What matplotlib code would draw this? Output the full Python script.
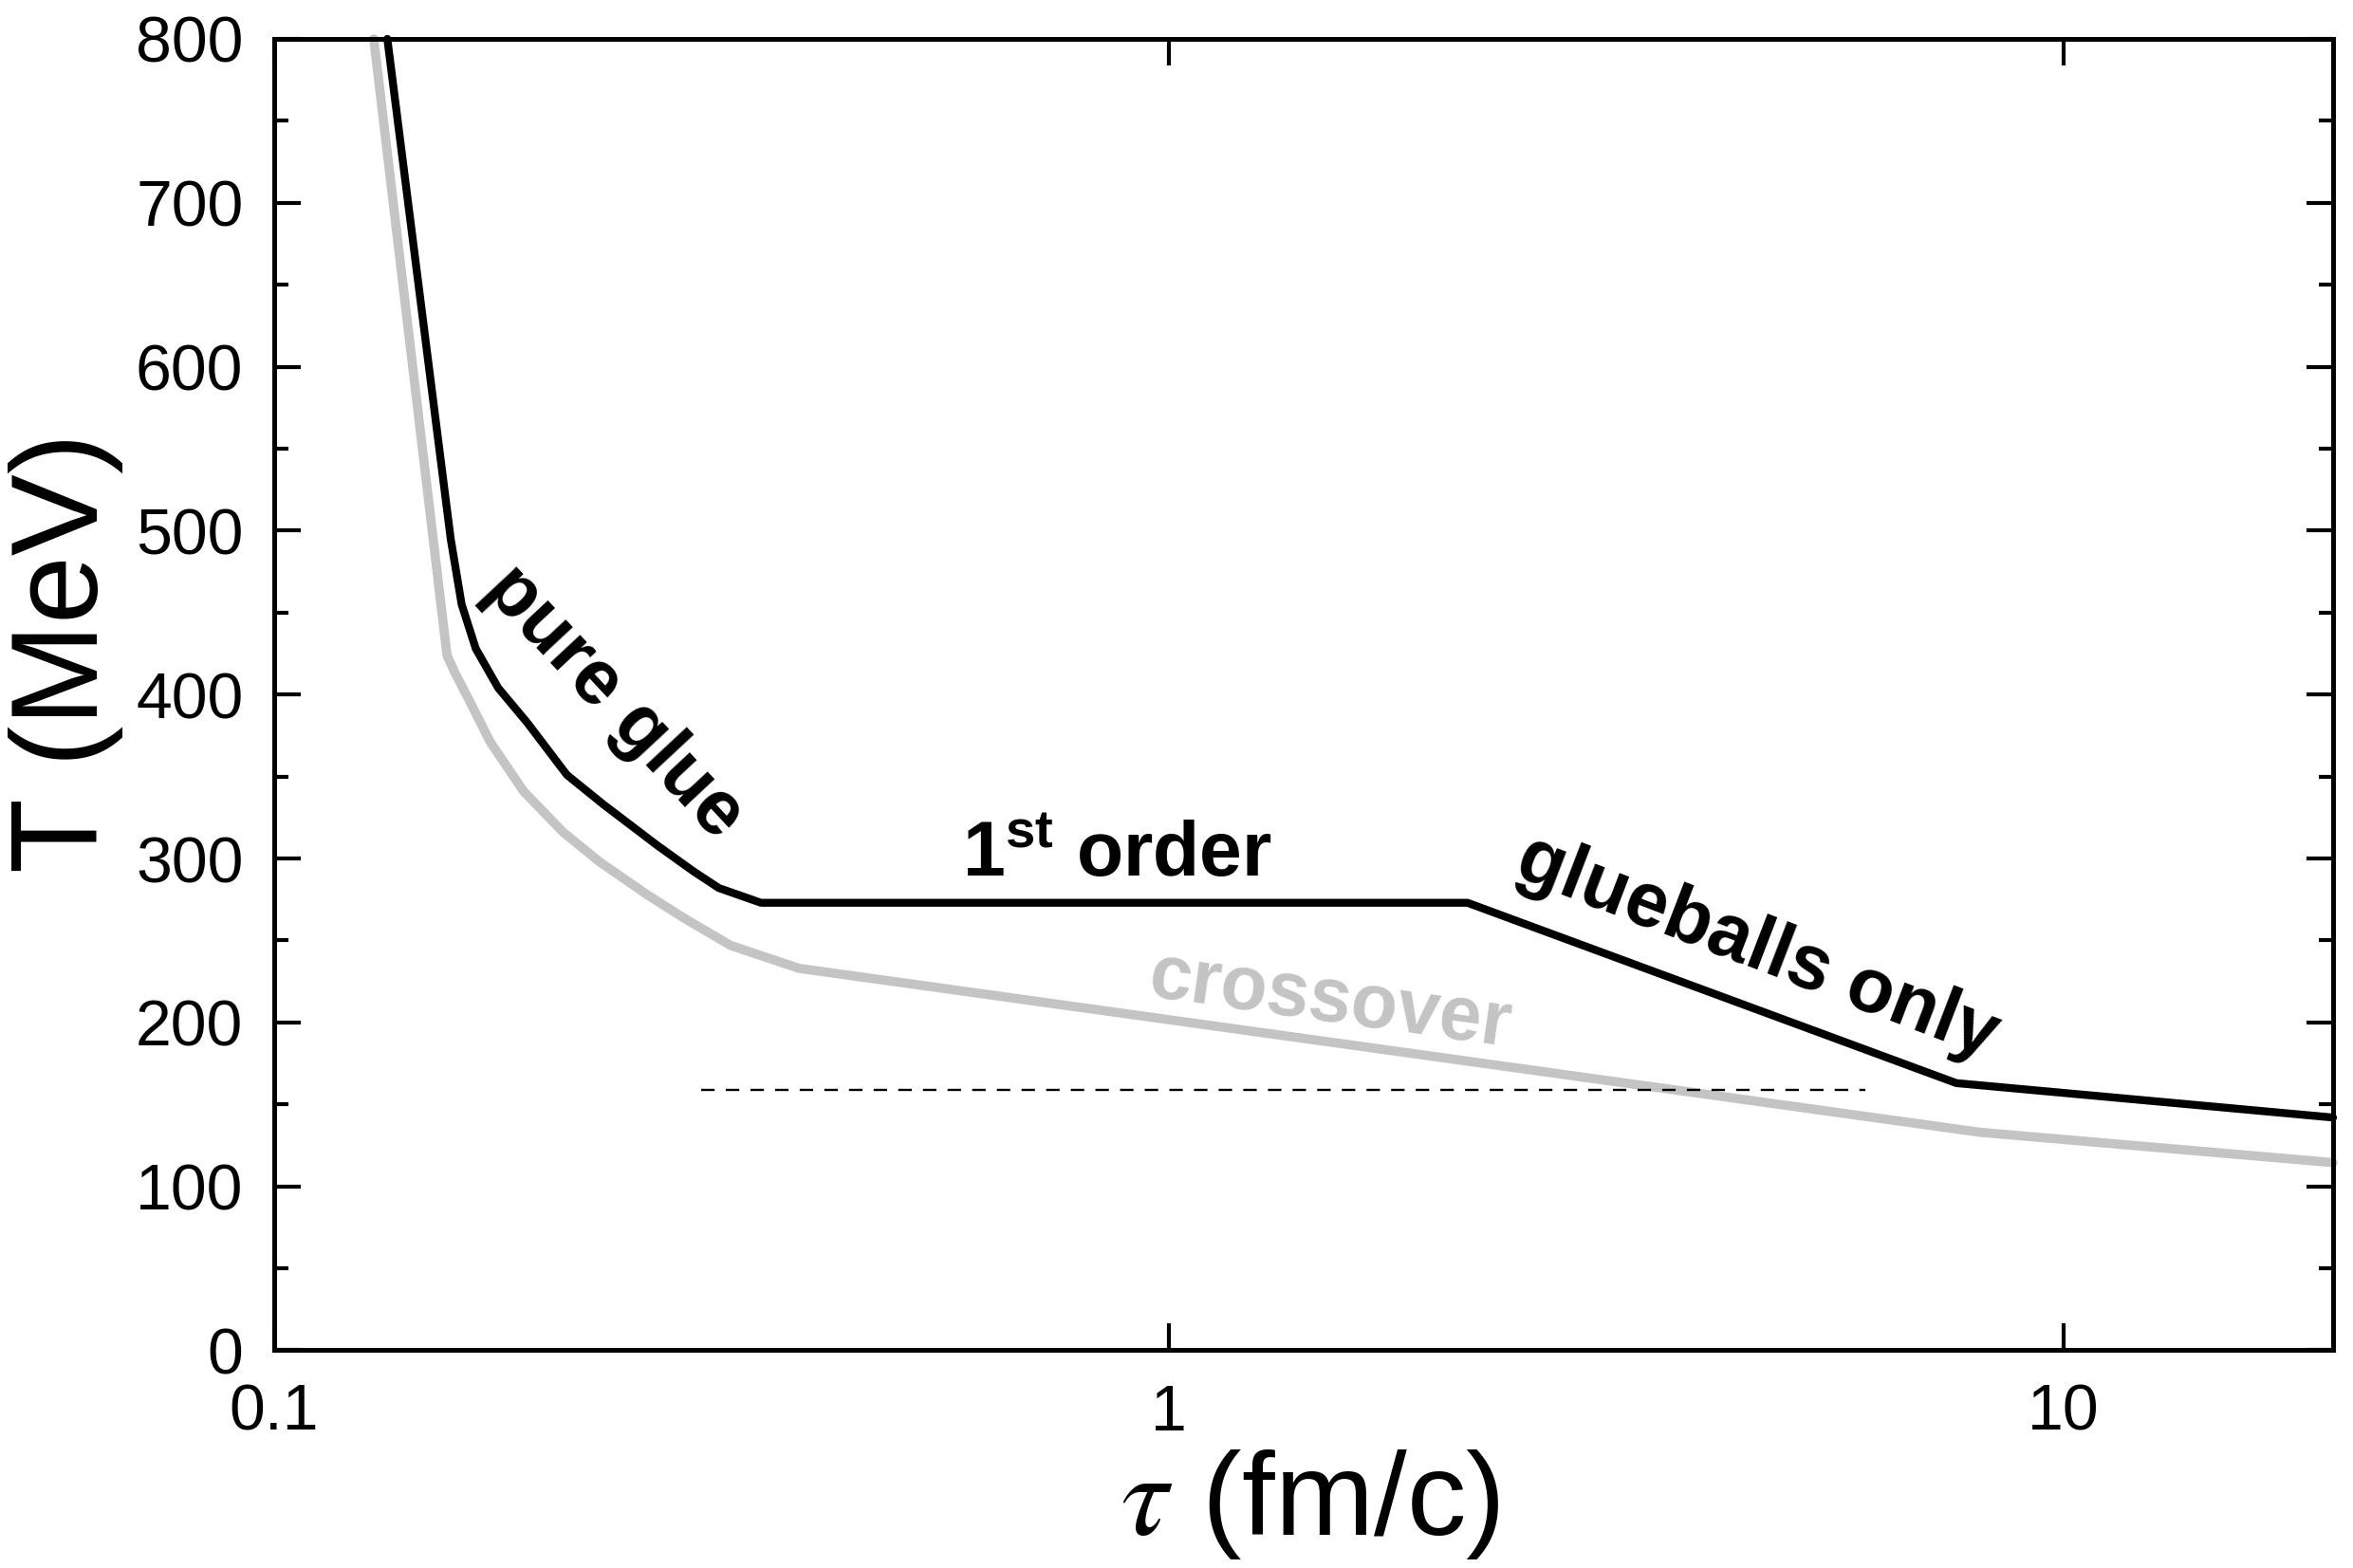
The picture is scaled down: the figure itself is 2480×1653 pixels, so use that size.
import numpy as np
import matplotlib.pyplot as plt
from matplotlib.ticker import MultipleLocator, FixedLocator, NullLocator

plt.rcParams['font.family'] = ['Liberation Sans', 'DejaVu Sans']
plt.rcParams['mathtext.fontset'] = 'custom'
plt.rcParams['mathtext.rm'] = 'Liberation Sans'
plt.rcParams['mathtext.bf'] = 'Liberation Sans:bold'
plt.rcParams['mathtext.it'] = 'Liberation Sans:italic'

# pure glue / 1st order / glueballs only (black)
tau_glue = [0.1338, 0.1575, 0.162, 0.168, 0.178, 0.1917, 0.2124, 0.2333, 0.268,
            0.2945, 0.314, 0.350, 2.156, 7.585, 20.0]
T_glue = [800, 495, 455, 428, 404, 383, 351, 333, 308, 292, 282, 273, 273, 163, 142]

# crossover (grey)
tau_cross = [0.1292, 0.156, 0.159, 0.165, 0.1744, 0.190, 0.2104, 0.231, 0.261,
             0.2864, 0.3236, 0.386, 8.06, 20.0]
T_cross = [800, 424, 414, 397, 371, 341, 316, 298, 278, 264, 247, 233, 133, 114.5]

# dashed reference line
tau_dash = [0.3, 6.0]
T_dash = [159, 159]

xtick_vals = [0.1, 1, 10]
xtick_labels = ['0.1', '1', '10']

grey = '#c4c4c4'

fig = plt.figure(figsize=(24.8, 16.53), dpi=100)
ax = fig.add_axes([0.11653, 0.13884, 0.875, 0.83636])

ax.plot(tau_cross, T_cross, color=grey, lw=7, solid_capstyle='round', clip_on=False)
ax.plot(tau_glue, T_glue, color='black', lw=6, solid_capstyle='round', clip_on=False)
ax.plot(tau_dash, T_dash, color='black', lw=1.7, linestyle=(0, (6, 5)))

ax.set_xscale('log')
ax.set_xlim(0.1, 20)
ax.set_ylim(0, 800)
ax.xaxis.set_major_locator(FixedLocator(xtick_vals))
ax.xaxis.set_minor_locator(NullLocator())
ax.set_xticklabels(xtick_labels)
ax.yaxis.set_major_locator(MultipleLocator(100))
ax.yaxis.set_minor_locator(MultipleLocator(50))

ax.tick_params(axis='both', which='both', direction='in', top=True, right=True, width=3)
ax.tick_params(axis='both', which='major', length=20, labelsize=49)
ax.tick_params(axis='both', which='minor', length=11)
ax.tick_params(axis='x', which='major', pad=24.5)
ax.tick_params(axis='y', which='major', pad=23.5)
for s in ax.spines.values():
    s.set_linewidth(3.6)

ax.set_xlabel(r'$\tau$ (fm/c)', fontsize=90, math_fontfamily='stix')
ax.xaxis.set_label_coords(0.503, -0.074)
ax.set_ylabel('T (MeV)', fontsize=93)
ax.yaxis.set_label_coords(-0.0733, 0.532)

ax.text(0.2397, 395.5, 'pure glue', rotation=-47, rotation_mode='anchor',
        ha='center', va='center', fontsize=58, fontweight='bold')
ax.text(0.876, 289, r'1$^{\mathbf{st}}$ order', ha='center', va='baseline',
        fontsize=58, fontweight='bold')
ax.text(4.55, 245, 'glueballs only', rotation=-21, rotation_mode='anchor',
        ha='center', va='center', fontsize=58, fontweight='bold')
ax.text(1.517, 212.4, 'crossover', rotation=-8, rotation_mode='anchor',
        ha='center', va='center', fontsize=58, fontweight='bold', color=grey)

fig.savefig('out.png', dpi=100)
